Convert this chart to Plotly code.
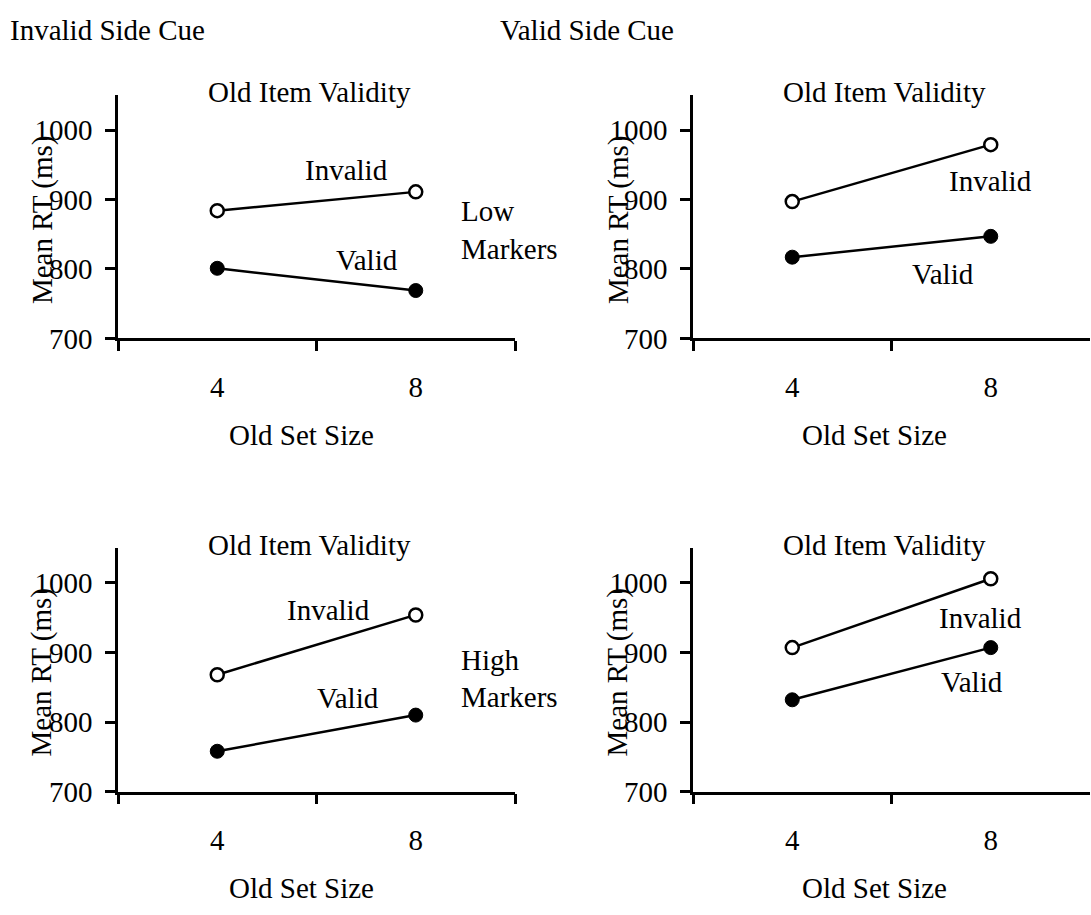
import plotly.graph_objects as go
from plotly.subplots import make_subplots

# ---- data ----
set_sizes = ["4", "8"]
y_ticks = [700, 800, 900, 1000]

low_invalidcue_invalid = [884, 911]
low_invalidcue_valid = [801, 769]
low_validcue_invalid = [897, 979]
low_validcue_valid = [817, 847]
high_invalidcue_invalid = [868, 954]
high_invalidcue_valid = [758, 810]
high_validcue_invalid = [907, 1006]
high_validcue_valid = [832, 907]

W, H = 1091, 915
FONT = "Liberation Serif, Times New Roman, serif"
FS = 29


def px(x):
    return x / W


def py(y):
    return 1 - y / H


fig = make_subplots(rows=2, cols=2)

panels = [
    (1, 1, low_invalidcue_invalid, low_invalidcue_valid),
    (1, 2, low_validcue_invalid, low_validcue_valid),
    (2, 1, high_invalidcue_invalid, high_invalidcue_valid),
    (2, 2, high_validcue_invalid, high_validcue_valid),
]

for r, c, inv, val in panels:
    fig.add_trace(go.Scatter(
        x=set_sizes, y=inv, mode="lines+markers",
        line=dict(color="black", width=2.5),
        marker=dict(symbol="circle", size=13, color="white",
                    line=dict(color="black", width=2.5)),
        showlegend=False, cliponaxis=False), row=r, col=c)
    fig.add_trace(go.Scatter(
        x=set_sizes, y=val, mode="lines+markers",
        line=dict(color="black", width=2.5),
        marker=dict(symbol="circle", size=14, color="black",
                    line=dict(color="black", width=1)),
        showlegend=False, cliponaxis=False), row=r, col=c)

x_domains = {1: [px(118), px(515)], 2: [px(693), px(1090)]}
y_domains = {1: [py(344.5), py(97)], 2: [py(805.7), py(557.9)]}

for r in (1, 2):
    for c in (1, 2):
        fig.update_xaxes(
            type="category", categoryorder="array", categoryarray=set_sizes,
            range=[-0.5, 1.5], domain=x_domains[c],
            showline=True, linecolor="black", linewidth=2.5,
            ticks="outside", ticklen=10, tickwidth=2.5, tickcolor="black",
            tickson="boundaries", showgrid=False, zeroline=False,
            ticklabelstandoff=21,
            tickfont=dict(family=FONT, size=FS, color="black"),
            row=r, col=c)
        fig.update_yaxes(
            range=[700, 1050], domain=y_domains[r],
            tickvals=y_ticks,
            showline=True, linecolor="black", linewidth=2.5,
            ticks="outside", ticklen=10, tickwidth=2.5, tickcolor="black",
            showgrid=False, zeroline=False,
            ticklabelstandoff=7,
            tickfont=dict(family=FONT, size=FS, color="black"),
            row=r, col=c)

ann = []


def text(x, y, s, xanchor="center", angle=0):
    ann.append(dict(x=px(x), y=py(y), xref="paper", yref="paper", text=s,
                    showarrow=False, xanchor=xanchor, yanchor="middle",
                    textangle=angle,
                    font=dict(family=FONT, size=FS, color="black")))


# column headers
text(8, 31, "Invalid Side Cue", xanchor="left")
text(498, 31, "Valid Side Cue", xanchor="left")

for yoff in (0, 460.5):
    text(309, 94 + yoff, "Old Item Validity")
    text(884, 94 + yoff, "Old Item Validity")
    text(42, 224 + yoff, "Mean RT (ms)", angle=-90)
    text(618, 224 + yoff, "Mean RT (ms)", angle=-90)
    text(301, 443 + yoff, "Old Set Size")
    text(874, 443 + yoff, "Old Set Size")

# line labels
text(346, 173, "Invalid")
text(367, 265, "Valid")
text(990, 184, "Invalid")
text(943, 279, "Valid")
text(328, 621, "Invalid")
text(348, 710, "Valid")
text(980, 629, "Invalid")
text(972, 694, "Valid")

# row labels
text(459, 215, "Low", xanchor="left")
text(459, 253, "Markers", xanchor="left")
text(459, 672, "High", xanchor="left")
text(459, 709, "Markers", xanchor="left")

fig.update_layout(
    width=W, height=H,
    margin=dict(l=0, r=0, t=0, b=0),
    paper_bgcolor="white", plot_bgcolor="white",
    annotations=ann,
    font=dict(family=FONT, size=FS, color="black"),
)

fig.write_html("out.html", config={"displayModeBar": False},
               post_script="document.body.style.margin='0';")
